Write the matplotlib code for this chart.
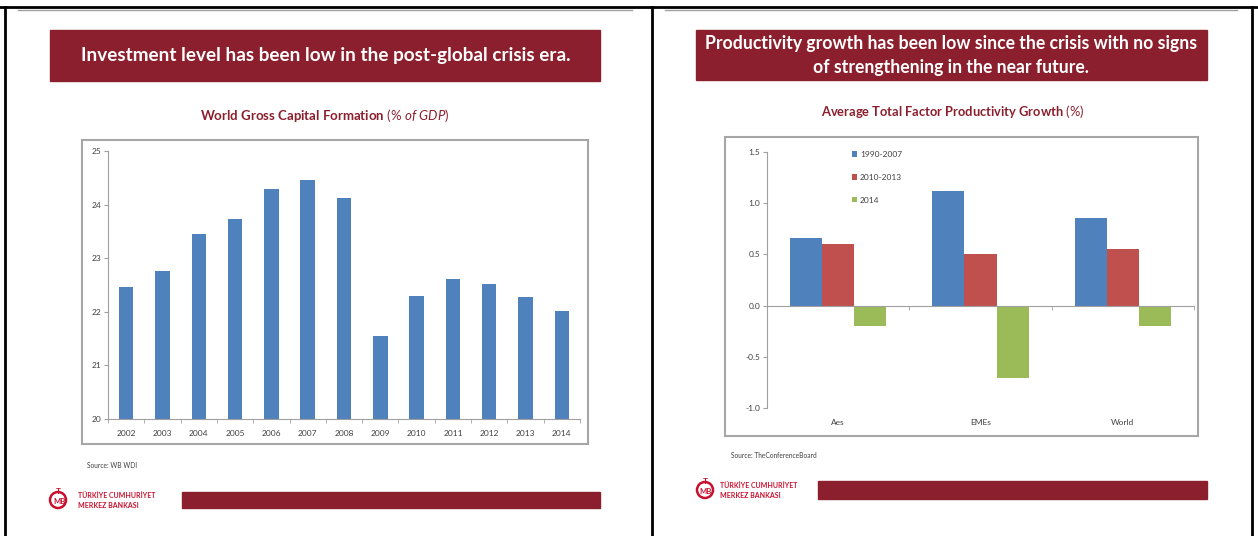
import matplotlib
matplotlib.use('Agg')
import matplotlib.pyplot as plt
import matplotlib.patches as mpatches
from matplotlib.ticker import FormatStrFormatter
import numpy as np

plt.rcParams['font.family'] = ['Lato', 'DejaVu Sans']
plt.rcParams['axes.unicode_minus'] = False
plt.rcParams['mathtext.fontset'] = 'custom'
plt.rcParams['mathtext.rm'] = 'Lato'
plt.rcParams['mathtext.it'] = 'Lato:italic'
plt.rcParams['mathtext.bf'] = 'Lato:bold'

W, H = 1258, 536

# Panel izquierdo: formación bruta de capital mundial (% del PIB)
years = ['2002', '2003', '2004', '2005', '2006', '2007', '2008',
         '2009', '2010', '2011', '2012', '2013', '2014']
gcf_pct_gdp = [22.46, 22.77, 23.45, 23.74, 24.30, 24.45, 24.12,
               21.54, 22.29, 22.61, 22.52, 22.27, 22.01]

# Panel derecho: crecimiento medio de la PTF (%)
regions = ['Aes', 'EMEs', 'World']
tfp_labels = ['1990-2007', '2010-2013', '2014']
tfp_1990_2007 = [0.66, 1.12, 0.86]
tfp_2010_2013 = [0.60, 0.50, 0.55]
tfp_2014 = [-0.20, -0.71, -0.20]

RED = '#8B1F2D'
LOGO = '#C8102E'
BLUE, ORANGE_RED, GREEN = '#4F81BD', '#C0504D', '#9BBB59'
TXT = '#404040'


def rect_px(x0, y0, x1, y1):
    # caja en pixeles (origen arriba-izquierda) -> fracciones de figura
    return [x0 / W, 1 - y1 / H, (x1 - x0) / W, (y1 - y0) / H]


fig = plt.figure(figsize=(W / 100, H / 100), dpi=100)

# Fondo en coordenadas de pixel para marcos, pancartas y textos
bg = fig.add_axes([0, 0, 1, 1], zorder=0)
bg.set_xlim(0, W)
bg.set_ylim(H, 0)
bg.axis('off')

# marco de la tabla
bg.plot([0, W], [7, 7], color='black', lw=2)
for x in (5, 652, 1252):
    bg.plot([x, x], [7, H], color='black', lw=2)
bg.plot([18, 632], [10, 10], color='#a0a0a0', lw=1)
bg.plot([665, 1237], [10, 10], color='#a0a0a0', lw=1)

# pancartas rojas
bg.add_patch(mpatches.Rectangle((50, 30), 550, 51, color=RED))
bg.text(326, 56, 'Investment level has been low in the post-global crisis era.',
        color='white', fontsize=13.6, fontweight='bold', ha='center', va='center')
bg.add_patch(mpatches.Rectangle((696, 30), 511, 50, color=RED))
bg.text(951, 44, 'Productivity growth has been low since the crisis with no signs',
        color='white', fontsize=12.7, fontweight='bold', ha='center', va='center')
bg.text(951, 68, 'of strengthening in the near future.',
        color='white', fontsize=12.7, fontweight='bold', ha='center', va='center')

# titulos de los graficos
bg.text(325, 115, r'World Gross Capital Formation $\it{(\%\ of\ GDP)}$',
        color=RED, fontsize=9.5, fontweight='bold', ha='center', va='center')
bg.text(953, 112, r'Average Total Factor Productivity Growth $\it{(\%)}$',
        color=RED, fontsize=9.3, fontweight='bold', ha='center', va='center')

# cajas de los graficos
bg.add_patch(mpatches.Rectangle((82, 140), 506, 304, fill=False,
                                edgecolor='#a6a6a6', lw=1.5))
bg.add_patch(mpatches.Rectangle((725, 137), 473, 299, fill=False,
                                edgecolor='#a6a6a6', lw=1.5))

# fuentes
bg.text(87, 466, 'Source: WB WDI', fontsize=4.8, color=TXT, va='center')
bg.text(731, 456, 'Source: TheConferenceBoard', fontsize=4.8, color=TXT, va='center')


def logo(cx, cy, tx):
    bg.add_patch(mpatches.Circle((cx, cy), 8, fill=False, edgecolor=LOGO, lw=1.8))
    bg.text(cx, cy - 8, 'T', color=LOGO, fontsize=6, fontweight='bold',
            ha='center', va='center')
    bg.text(cx + 1, cy + 1, 'MB', color=LOGO, fontsize=5.5, fontweight='bold',
            ha='center', va='center')
    bg.text(tx, cy - 5, 'TÜRKİYE CUMHURİYET', color=LOGO, fontsize=5,
            fontweight='bold', va='center')
    bg.text(tx, cy + 5, 'MERKEZ BANKASI', color=LOGO, fontsize=5,
            fontweight='bold', va='center')


logo(58, 500, 78)
logo(705, 490, 720)
bg.add_patch(mpatches.Rectangle((182, 492), 418, 16, color=RED))
bg.add_patch(mpatches.Rectangle((818, 481), 389, 18, color=RED))

# ---- grafico izquierdo ----
ax1 = fig.add_axes(rect_px(108, 151, 580, 419), zorder=2)
x1 = np.arange(len(years))
ax1.bar(x1, gcf_pct_gdp, width=0.4, color=BLUE)
ax1.set_ylim(20, 25)
ax1.set_xlim(-0.5, len(years) - 0.5)
ax1.set_yticks([20, 21, 22, 23, 24, 25])
ax1.set_xticks(x1)
ax1.set_xticklabels(years)
ax1.set_xticks(np.arange(-0.5, len(years), 1), minor=True)
for s in ('top', 'right'):
    ax1.spines[s].set_visible(False)
for s in ('left', 'bottom'):
    ax1.spines[s].set_color('#a0a0a0')
ax1.tick_params(axis='x', which='major', length=0, labelsize=6,
                labelcolor=TXT, pad=8)
ax1.tick_params(axis='x', which='minor', length=3, color='#a0a0a0')
ax1.tick_params(axis='y', length=3, color='#a0a0a0', labelsize=6,
                labelcolor=TXT, pad=2)

# ---- grafico derecho ----
ax2 = fig.add_axes(rect_px(767, 152, 1194, 408), zorder=2)
x2 = np.arange(len(regions))
bw = 0.225
for k, (vals, col) in enumerate(zip([tfp_1990_2007, tfp_2010_2013, tfp_2014],
                                    [BLUE, ORANGE_RED, GREEN])):
    ax2.bar(x2 + (k - 1) * bw, vals, width=bw, color=col, label=tfp_labels[k])
ax2.set_ylim(-1.0, 1.5)
ax2.set_xlim(-0.5, len(regions) - 0.5)
ax2.set_yticks([-1.0, -0.5, 0.0, 0.5, 1.0, 1.5])
ax2.yaxis.set_major_formatter(FormatStrFormatter('%.1f'))
ax2.set_xticks(x2)
ax2.set_xticklabels([])
ax2.set_xticks([0.5, 1.5, 2.5], minor=True)
for s in ('top', 'right'):
    ax2.spines[s].set_visible(False)
ax2.spines['bottom'].set_position(('data', 0))
for s in ('left', 'bottom'):
    ax2.spines[s].set_color('#a0a0a0')
ax2.tick_params(axis='x', which='major', length=0)
ax2.tick_params(axis='x', which='minor', length=3, color='#a0a0a0')
ax2.tick_params(axis='y', length=3, color='#a0a0a0', labelsize=6,
                labelcolor=TXT, pad=2)
for i, r in enumerate(regions):
    ax2.text(i, -0.055, r, transform=ax2.get_xaxis_transform(),
             ha='center', va='center', fontsize=6, color=TXT)
ax2.legend(loc='upper left', bbox_to_anchor=(0.19, 1.02), frameon=False,
           fontsize=6, handlelength=0.6, handleheight=0.6, handletextpad=0.3,
           labelspacing=1.9, borderpad=0, labelcolor=TXT)

fig.savefig('out.png', dpi=100)
